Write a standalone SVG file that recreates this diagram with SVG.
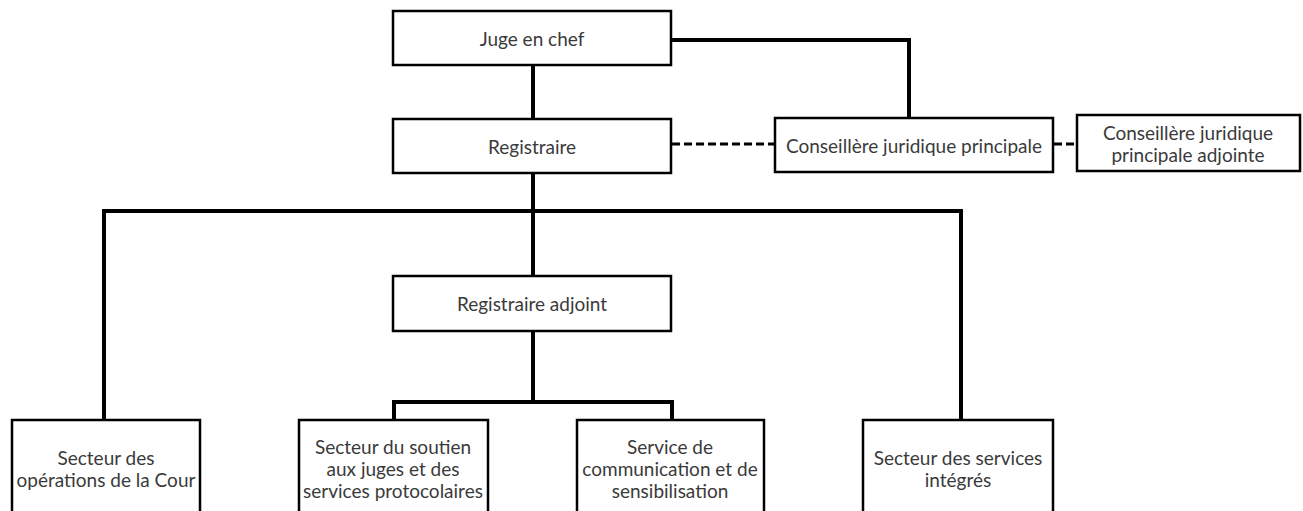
<svg xmlns="http://www.w3.org/2000/svg" width="1303" height="511" viewBox="0 0 1303 511">
<style>
.box{fill:#fff;stroke:#000;stroke-width:2.5}
.t{font-family:Lato,"Open Sans",sans-serif;font-size:19px;fill:#3a3a3a;text-anchor:middle;dominant-baseline:central}
.c{fill:none;stroke:#000;stroke-width:4;stroke-linejoin:miter;stroke-linecap:square}
.d{fill:none;stroke:#000;stroke-width:3;stroke-dasharray:8 4}
</style>
<rect width="1303" height="511" fill="#fff"/>
<g id="connectors">
<path class="c" d="M533 65V118"/>
<path class="c" d="M671 40H909V118"/>
<path class="c" d="M533 173V276"/>
<path class="c" d="M104 420V211H961V420"/>
<path class="c" d="M533 331V402"/>
<path class="c" d="M394 420V402H672V420"/>
<path class="d" d="M672 144H775"/>
<path class="d" d="M1054 144H1077"/>
</g>
<g id="juge"><rect class="box" x="393" y="11" width="278" height="54"/><text class="t" x="532" y="38">Juge en chef</text></g>
<g id="registraire"><rect class="box" x="393" y="119" width="278" height="54"/><text class="t" x="532" y="146">Registraire</text></g>
<g id="conseillere"><rect class="box" x="775" y="118" width="278" height="54"/><text class="t" x="914" y="145">Conseillère juridique principale</text></g>
<g id="conseillere-adj"><rect class="box" x="1077" y="115" width="223" height="56"/><text class="t" x="1188" y="132">Conseillère juridique</text><text class="t" x="1188" y="154">principale adjointe</text></g>
<g id="registraire-adj"><rect class="box" x="393" y="276" width="278" height="55"/><text class="t" x="532" y="303">Registraire adjoint</text></g>
<g id="operations"><rect class="box" x="12" y="420" width="188" height="110"/><text class="t" x="106" y="457">Secteur des</text><text class="t" x="106" y="479">opérations de la Cour</text></g>
<g id="soutien"><rect class="box" x="299" y="420" width="189" height="110"/><text class="t" x="393" y="446">Secteur du soutien</text><text class="t" x="393" y="468">aux juges et des</text><text class="t" x="393" y="490">services protocolaires</text></g>
<g id="communication"><rect class="box" x="577" y="420" width="187" height="110"/><text class="t" x="670" y="446">Service de</text><text class="t" x="670" y="468">communication et de</text><text class="t" x="670" y="490">sensibilisation</text></g>
<g id="integres"><rect class="box" x="863" y="420" width="190" height="110"/><text class="t" x="958" y="457">Secteur des services</text><text class="t" x="958" y="479">intégrés</text></g>
</svg>
